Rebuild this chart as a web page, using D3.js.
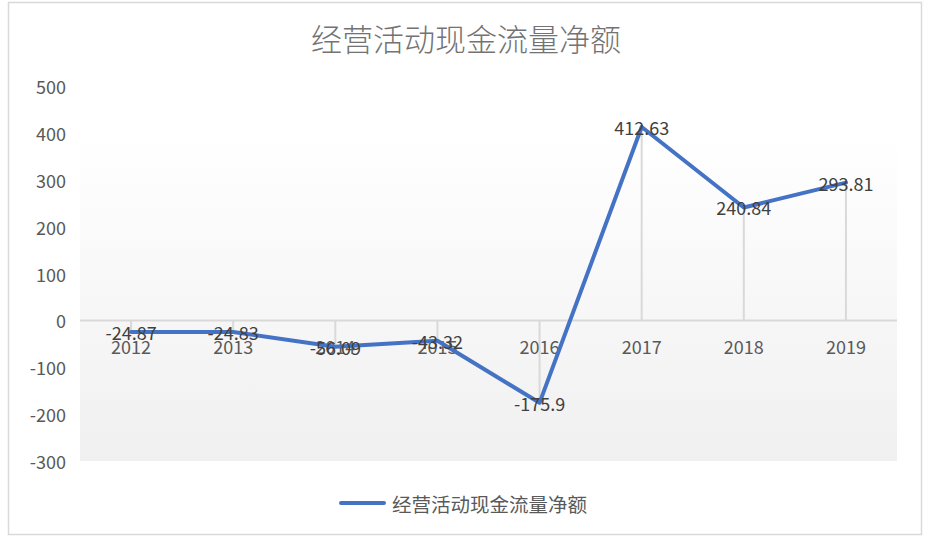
<!DOCTYPE html>
<html>
<head>
<meta charset="utf-8">
<script src="https://cdn.jsdelivr.net/npm/d3@7"></script>
<style>
  body { margin: 0; background: #fff; }
  svg { display: block; font-family: "Noto Sans CJK SC", "Noto Sans", sans-serif; }
</style>
</head>
<body>
<div id="chart"></div>
<script>
const years = ["2012", "2013", "2014", "2015", "2016", "2017", "2018", "2019"];
const netCash = [-24.87, -24.83, -56.09, -43.32, -175.9, 412.63, 240.84, 293.81];
const yTicks = [500, 400, 300, 200, 100, 0, -100, -200, -300];
const chartTitle = "经营活动现金流量净额";
const seriesName = "经营活动现金流量净额";

const W = 930, H = 543;
const plot = { left: 80, right: 897, top: 86, bottom: 461 };

const svg = d3.select("#chart").append("svg")
    .attr("width", W)
    .attr("height", H);

// gradient for plot area
const grad = svg.append("defs").append("linearGradient")
    .attr("id", "plotBg")
    .attr("x1", 0).attr("y1", 0).attr("x2", 0).attr("y2", 1);
grad.append("stop").attr("offset", "0%").attr("stop-color", "#ffffff");
grad.append("stop").attr("offset", "100%").attr("stop-color", "#f0f0f0");

// outer border
svg.append("rect")
    .attr("x", 8.5).attr("y", 2.5)
    .attr("width", 913).attr("height", 532)
    .attr("fill", "#fff")
    .attr("stroke", "#d9d9d9")
    .attr("stroke-width", 1.5);

svg.append("text")
    .attr("x", 466)
    .attr("y", 37)
    .attr("text-anchor", "middle")
    .attr("dominant-baseline", "central")
    .attr("fill", "#737373")
    .style("font-size", "31px")
    .style("font-weight", "300")
    .text(chartTitle);

const x = d3.scaleBand()
    .domain(years)
    .range([plot.left, plot.right]);

const y = d3.scaleLinear()
    .domain([-300, 500])
    .range([plot.bottom, plot.top]);

// plot area background (Excel draws it from the 400 line down)
svg.append("rect")
    .attr("x", plot.left)
    .attr("y", y(400))
    .attr("width", plot.right - plot.left)
    .attr("height", y(-300) - y(400))
    .attr("fill", "url(#plotBg)");

// y axis labels
svg.append("g")
    .selectAll("text")
    .data(yTicks)
    .enter()
    .append("text")
    .attr("x", 66)
    .attr("y", d => y(d))
    .attr("text-anchor", "end")
    .attr("dominant-baseline", "central")
    .attr("fill", "#595959")
    .style("font-size", "18px")
    .text(d => d);

// zero axis line
svg.append("line")
    .attr("x1", plot.left).attr("x2", plot.right)
    .attr("y1", y(0)).attr("y2", y(0))
    .attr("stroke", "#d9d9d9")
    .attr("stroke-width", 2);

const cx = d => x(d) + x.bandwidth() / 2;
const points = years.map((yr, i) => ({ year: yr, value: netCash[i] }));

// drop lines
svg.append("g")
    .selectAll("line")
    .data(points)
    .enter()
    .append("line")
    .attr("x1", d => cx(d.year)).attr("x2", d => cx(d.year))
    .attr("y1", y(0)).attr("y2", d => y(d.value))
    .attr("stroke", "#d9d9d9")
    .attr("stroke-width", 2);

// category labels
svg.append("g")
    .selectAll("text")
    .data(years)
    .enter()
    .append("text")
    .attr("x", d => cx(d))
    .attr("y", 346)
    .attr("text-anchor", "middle")
    .attr("dominant-baseline", "central")
    .attr("fill", "#595959")
    .style("font-size", "18px")
    .text(d => d);

const line = d3.line()
    .x(d => cx(d.year))
    .y(d => y(d.value));

svg.append("path")
    .datum(points)
    .attr("fill", "none")
    .attr("stroke", "#4472c4")
    .attr("stroke-width", 4)
    .attr("stroke-linejoin", "round")
    .attr("stroke-linecap", "round")
    .attr("d", line);

// data labels
svg.append("g")
    .selectAll("text")
    .data(points)
    .enter()
    .append("text")
    .attr("x", d => cx(d.year))
    .attr("y", d => y(d.value))
    .attr("text-anchor", "middle")
    .attr("dominant-baseline", "central")
    .attr("fill", "#404040")
    .style("font-size", "18px")
    .text(d => d.value);

// legend
const lg = svg.append("g");
lg.append("line")
    .attr("x1", 341).attr("x2", 384)
    .attr("y1", 503).attr("y2", 503)
    .attr("stroke", "#4472c4")
    .attr("stroke-width", 4)
    .attr("stroke-linecap", "round");
lg.append("text")
    .attr("x", 392)
    .attr("y", 503)
    .attr("dominant-baseline", "central")
    .attr("fill", "#595959")
    .style("font-size", "19.5px")
    .text(seriesName);
</script>
</body>
</html>
